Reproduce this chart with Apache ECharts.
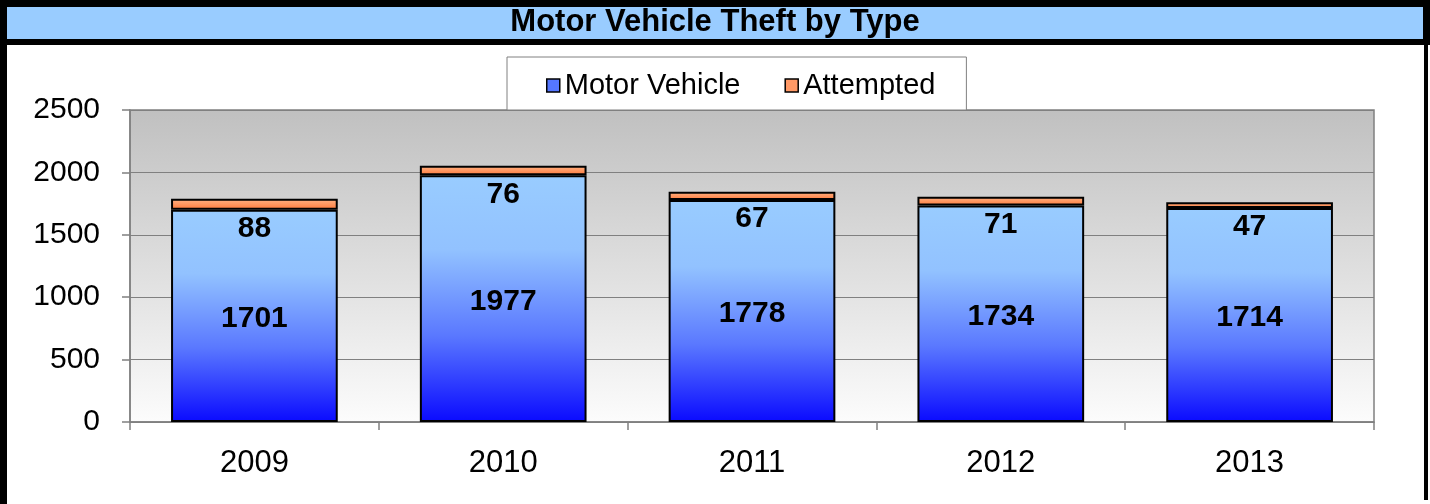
<!DOCTYPE html>
<html>
<head>
<meta charset="utf-8">
<script src="https://cdn.jsdelivr.net/npm/echarts@6/dist/echarts.min.js"></script>
<style>
html,body{margin:0;padding:0;background:#fff;}
#c{width:1430px;height:504px;}
</style>
</head>
<body>
<div id="c"></div>
<script>
const categories = ['2009', '2010', '2011', '2012', '2013'];
const motorVehicle = [1701, 1977, 1778, 1734, 1714];
const attempted = [88, 76, 67, 71, 47];
const yTicks = { min: 0, max: 2500, interval: 500 };

const FONT = "'Liberation Sans', Arial, sans-serif";
const chart = echarts.init(document.getElementById('c'));

const blueGrad = new echarts.graphic.LinearGradient(0, 0, 0, 1, [
  { offset: 0, color: '#99CCFF' },
  { offset: 0.3, color: '#92C2FF' },
  { offset: 0.65, color: '#5A78FF' },
  { offset: 1, color: '#0A0AFF' }
]);
const orangeGrad = new echarts.graphic.LinearGradient(0, 0, 0, 1, [
  { offset: 0, color: '#FFB486' },
  { offset: 1, color: '#FF7A3C' }
]);

chart.setOption({
  animation: false,
  backgroundColor: '#fff',
  title: {
    text: 'Motor Vehicle Theft by Type',
    left: 'center',
    top: 7,
    padding: 0,
    textStyle: { fontFamily: FONT, fontSize: 31, fontWeight: 'bold', color: '#000' }
  },
  graphic: [
    { type: 'rect', z: -1, shape: { x: 0, y: 0, width: 1430, height: 45 }, style: { fill: '#000' } },
    { type: 'rect', z: -1, shape: { x: 7, y: 7, width: 1416, height: 32 }, style: { fill: '#99CCFF' } },
    { type: 'rect', z: -1, shape: { x: 0, y: 0, width: 7, height: 504 }, style: { fill: '#000' } },
    { type: 'rect', z: -1, shape: { x: 1424, y: 0, width: 4, height: 500 }, style: { fill: '#000' } }
  ],
  legend: {
    left: 507,
    top: 57,
    padding: [14, 31, 10, 39],
    itemGap: 44,
    itemWidth: 13,
    itemHeight: 13,
    icon: 'rect',
    borderColor: '#808080',
    borderWidth: 1,
    backgroundColor: '#fff',
    textStyle: { fontFamily: FONT, fontSize: 29, color: '#000' },
    data: [
      { name: 'Motor Vehicle', itemStyle: { color: '#5577FF', borderColor: '#000', borderWidth: 1.5 } },
      { name: 'Attempted', itemStyle: { color: '#FF9966', borderColor: '#000', borderWidth: 1.5 } }
    ]
  },
  grid: {
    left: 130,
    right: 56,
    top: 110,
    bottom: 82,
    show: true,
    borderColor: '#808080',
    borderWidth: 1.5,
    backgroundColor: new echarts.graphic.LinearGradient(0, 0, 0, 1, [
      { offset: 0, color: '#C0C0C0' },
      { offset: 1, color: '#FCFCFC' }
    ])
  },
  xAxis: {
    type: 'category',
    data: categories,
    axisLine: { lineStyle: { color: '#808080', width: 1.5 } },
    axisTick: { show: true, length: 8, lineStyle: { color: '#808080', width: 1.5 } },
    axisLabel: { fontFamily: FONT, fontSize: 31, color: '#000', margin: 26 }
  },
  yAxis: {
    type: 'value',
    min: yTicks.min,
    max: yTicks.max,
    interval: yTicks.interval,
    axisLine: { show: true, lineStyle: { color: '#808080', width: 1.5 } },
    axisTick: { show: true, length: 8, lineStyle: { color: '#808080', width: 1.5 } },
    splitLine: { lineStyle: { color: '#808080', width: 1 } },
    axisLabel: { fontFamily: FONT, fontSize: 30, color: '#000', margin: 30, formatter: v => String(v) }
  },
  series: [
    {
      name: 'Motor Vehicle',
      type: 'bar',
      stack: 'total',
      barCategoryGap: '33%',
      data: motorVehicle,
      itemStyle: { color: blueGrad, borderColor: '#000', borderWidth: 2 },
      label: {
        show: true, position: 'inside', offset: [0, 3],
        fontFamily: FONT, fontSize: 30, fontWeight: 'bold', color: '#000'
      }
    },
    {
      name: 'Attempted',
      type: 'bar',
      stack: 'total',
      data: attempted,
      itemStyle: { color: orangeGrad, borderColor: '#000', borderWidth: 2 },
      label: {
        show: true, position: 'bottom', distance: 4,
        fontFamily: FONT, fontSize: 30, fontWeight: 'bold', color: '#000'
      }
    }
  ]
});
</script>
</body>
</html>
